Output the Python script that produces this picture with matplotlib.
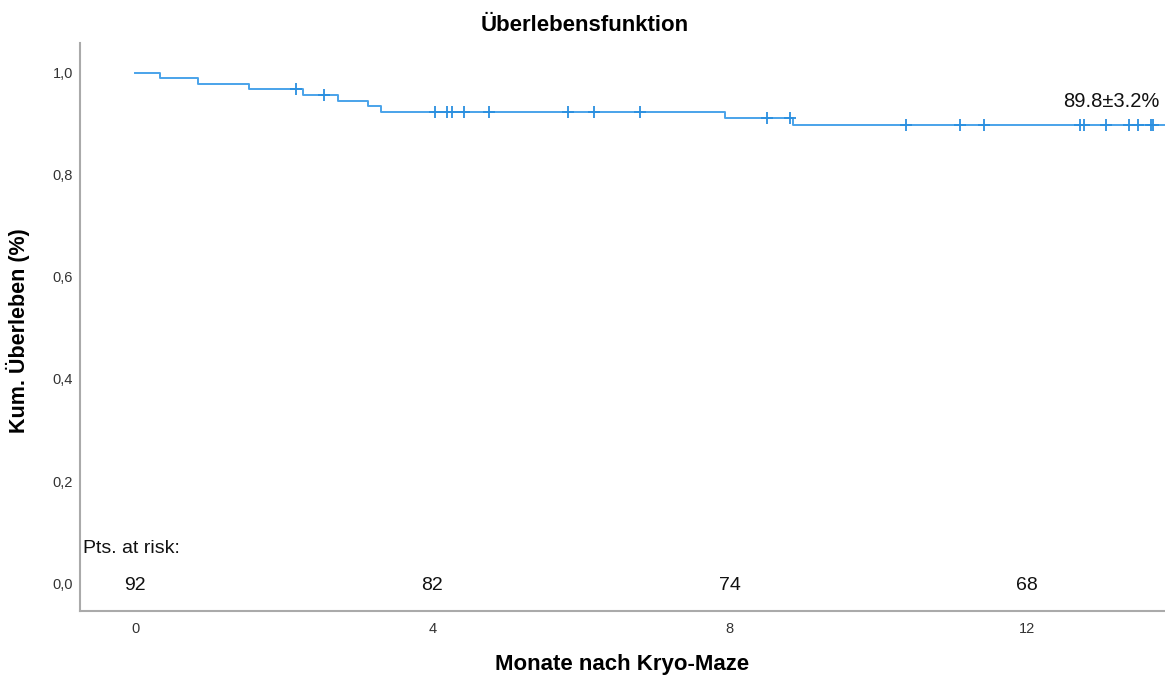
#Kaplan-Meier curve after Kryo-Maze

import numpy as np
import matplotlib.pyplot as plt

plt.rcParams['font.family'] = ['Liberation Sans', 'DejaVu Sans']

#event times (months) and the survival level after each step
step_times = [0.0, 0.34, 0.85, 1.54, 2.26, 2.73, 3.13, 3.31, 7.94, 8.85]
surv_levels = [1.0, 0.989, 0.978, 0.967, 0.956, 0.945, 0.934, 0.923, 0.911, 0.898]

#censored patients
censor_times = [2.17, 2.54, 4.04, 4.20, 4.26, 4.43, 4.77, 5.83, 6.17, 6.79,
                8.50, 8.81, 10.38, 11.10, 11.43, 12.71, 12.77, 13.06, 13.37,
                13.50, 13.67, 13.70]

#numbers at risk
risk_times = [0, 4, 8, 12]
risk_counts = [92, 82, 74, 68]

x_ticks = [0, 4, 8, 12]
y_ticks = [0.0, 0.2, 0.4, 0.6, 0.8, 1.0]
y_labels = ['0,0', '0,2', '0,4', '0,6', '0,8', '1,0']

end_label = '89.8\u00b13.2%'
t_end = 13.9

fig = plt.figure(figsize=(11.65, 6.79), dpi=100)
ax = fig.add_axes([0.0687, 0.1006, 0.9313, 0.8361])

line_col = '#4aa3ea'
mark_col = '#2a8fdf'

#step curve, extended to the end of follow up
xs = list(step_times) + [t_end]
ys = list(surv_levels) + [surv_levels[-1]]
ax.step(xs, ys, where='post', color=line_col, lw=1.4)

#censor marks sit on the curve
idx = np.searchsorted(step_times, censor_times, side='right') - 1
cens_y = np.array(surv_levels)[idx]
ax.plot(censor_times, cens_y, ls='none', marker='+', ms=9, mew=1.3, color=mark_col)

ax.text(13.79, 0.943, end_label, ha='right', va='center', fontsize=14.5, color='#111111')

#patients at risk row
ax.text(-0.70, 0.067, 'Pts. at risk:', ha='left', va='center', fontsize=14, color='#111111')
for t, n in zip(risk_times, risk_counts):
	ax.text(t, -0.004, str(n), ha='center', va='center', fontsize=14, color='#111111')

ax.set_xlim(-0.74, 13.86)
ax.set_ylim(-0.054, 1.058)
ax.set_xticks(x_ticks)
ax.set_yticks(y_ticks)
ax.set_yticklabels(y_labels)
ax.tick_params(axis='both', length=0, labelsize=10.5, labelcolor='#333333')
ax.tick_params(axis='x', pad=8)
ax.tick_params(axis='y', pad=5)

for side in ['top', 'right']:
	ax.spines[side].set_visible(False)
for side in ['left', 'bottom']:
	ax.spines[side].set_color('#aaaaaa')
	ax.spines[side].set_linewidth(1.5)

fig.suptitle('\u00dcberlebensfunktion', x=0.502, y=0.963, va='center',
	fontsize=16, fontweight='bold')
ax.set_xlabel('Monate nach Kryo-Maze', fontsize=16, fontweight='bold', labelpad=13)
ax.set_ylabel('Kum. \u00dcberleben (%)', fontsize=15.5, fontweight='bold')
ax.yaxis.set_label_coords(-0.046, 0.493)

plt.savefig('out.png', dpi=100)
plt.close()
